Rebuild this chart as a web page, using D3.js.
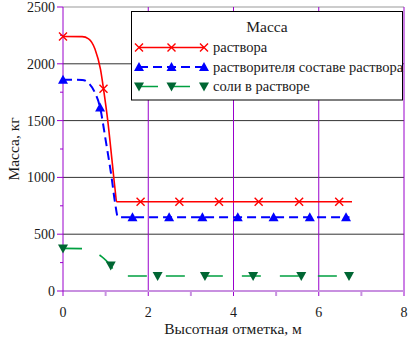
<!DOCTYPE html>
<html><head><meta charset="utf-8"><script src="https://cdn.jsdelivr.net/npm/d3@7"></script>
<style>
  html, body { margin: 0; overflow: hidden; background: #fff; }
  #wrap { width: 408px; height: 340px; overflow: hidden; }
  #wrap svg { transform: scale(0.5); transform-origin: 0 0; display: block; }
</style>
</head>
<body>
<div id="wrap"></div>
<script>
// series data (x = height mark, m; y = mass, kg)
var solutionLine = [[0, 2240], [0.45, 2239], [0.6, 2220], [0.75, 2130], [0.88, 1950], [0.95, 1780],
    [1.05, 1500], [1.15, 1150], [1.22, 900], [1.26, 785], [6.78, 785]];
var solutionMarks = [[0, 2240], [0.95, 1780], [1.82, 785], [2.73, 785], [3.66, 785], [4.59, 785], [5.54, 785], [6.48, 785]];

var solventLine = [[0, 1860], [0.45, 1858], [0.6, 1830], [0.75, 1745], [0.87, 1615], [1.0, 1330],
    [1.14, 1000], [1.22, 780], [1.29, 650], [6.72, 650]];
var solventMarks = [[0, 1860], [0.87, 1615], [1.63, 650], [2.49, 650], [3.27, 650], [4.10, 650], [4.94, 650], [5.79, 650], [6.64, 650]];

var saltLine = [[0, 375], [0.5, 373], [0.7, 350], [0.9, 305], [1.02, 265], [1.12, 225], [1.22, 160], [1.3, 132], [6.7, 132]];
var saltMarks = [[0, 375], [1.12, 225], [2.22, 132], [3.33, 132], [4.46, 132], [5.59, 132], [6.71, 132]];

var seriesNames = ["раствора", "растворителя составе раствора", "соли в растворе"];
var legendTitle = "Масса";
var xTicks = [0, 2, 4, 6, 8];
var xMinor = [1, 3, 5, 7];
var yTicks = [0, 500, 1000, 1500, 2000, 2500];
var yMinor = [250, 750, 1250, 1750, 2250];

var W = 408, H = 340;
var margin = {top: 7, right: 4, bottom: 49, left: 63};
var fontName = 'Liberation Serif';

// drawn at 2x through the viewBox, shrunk back with a css transform
var svg = d3.select('#wrap').append('svg')
    .attr('width', W * 2)
    .attr('height', H * 2)
    .attr('viewBox', '0 0 ' + W + ' ' + H);

var x = d3.scaleLinear().domain([0, 8]).range([margin.left, W - margin.right]);
var y = d3.scaleLinear().domain([0, 2500]).range([H - margin.bottom, margin.top]);

var purple = '#9900cc';
var lightPurple = '#c890e0';

function label(parent, tx, ty, size, anchor, str, rot) {
    parent.append('text')
        .attr('transform', 'translate(' + tx + ',' + ty + ')' + (rot ? ' rotate(' + rot + ')' : ''))
        .attr('text-anchor', anchor)
        .attr('font-size', size)
        .style('font-family', "'" + fontName + "'")
        .attr('fill', '#1a1a1a')
        .text(str);
}

// horizontal grid
svg.selectAll('.hgrid')
    .data(yTicks.slice(1))
    .enter().append('line')
    .attr('x1', x(0)).attr('x2', x(8))
    .attr('y1', (d) => y(d)).attr('y2', (d) => y(d))
    .attr('stroke', (d) => d == 2500 ? '#999' : '#333')
    .attr('stroke-width', 1);

// vertical grid
svg.selectAll('.vgrid')
    .data(xTicks.slice(1))
    .enter().append('line')
    .attr('x1', (d) => x(d)).attr('x2', (d) => x(d))
    .attr('y1', y(2500)).attr('y2', y(0) + 5)
    .attr('stroke', purple)
    .attr('stroke-width', 1);

// bottom axis
svg.append('line')
    .attr('x1', x(0)).attr('x2', x(8))
    .attr('y1', y(0)).attr('y2', y(0))
    .attr('stroke', lightPurple).attr('stroke-width', 2);

svg.selectAll('.xminor')
    .data(xMinor)
    .enter().append('line')
    .attr('x1', (d) => x(d)).attr('x2', (d) => x(d))
    .attr('y1', y(0)).attr('y2', y(0) + 5)
    .attr('stroke', lightPurple).attr('stroke-width', 2);

// left axis
svg.append('line')
    .attr('x1', x(0)).attr('x2', x(0))
    .attr('y1', y(2500)).attr('y2', y(0) + 5)
    .attr('stroke', purple);

svg.selectAll('.ymajor')
    .data(yTicks)
    .enter().append('line')
    .attr('x1', x(0) - 6).attr('x2', x(0))
    .attr('y1', (d) => y(d)).attr('y2', (d) => y(d))
    .attr('stroke', purple);

svg.selectAll('.yminor')
    .data(yMinor)
    .enter().append('line')
    .attr('x1', x(0) - 3).attr('x2', x(0))
    .attr('y1', (d) => y(d)).attr('y2', (d) => y(d))
    .attr('stroke', purple);

// tick labels
yTicks.forEach((d) => label(svg, x(0) - 8, y(d) + 5, 14, 'end', d));
xTicks.forEach((d) => label(svg, x(d), y(0) + 26, 14, 'middle', d));

label(svg, 233, 334, 15.5, 'middle', 'Высотная отметка, м');
label(svg, 19, y(1250), 15.5, 'middle', 'Масса, кг', -90);

// lines
var line = d3.line()
    .x((d) => x(d[0]))
    .y((d) => y(d[1]))
    .curve(d3.curveMonotoneX);

svg.append('path')
    .attr('d', line(solutionLine))
    .attr('fill', 'none').attr('stroke', '#ff0000').attr('stroke-width', 1.6);

svg.append('path')
    .attr('d', line(solventLine))
    .attr('fill', 'none').attr('stroke', '#0000ff').attr('stroke-width', 2)
    .attr('stroke-dasharray', '9,5');

svg.append('path')
    .attr('d', line(saltLine))
    .attr('fill', 'none').attr('stroke', '#00a040').attr('stroke-width', 1.6)
    .attr('stroke-dasharray', '19,19');

// markers
function cross(sel, px, py) {
    sel.append('path')
        .attr('d', 'M' + (px - 4) + ',' + (py - 4) + 'L' + (px + 4) + ',' + (py + 4) +
            'M' + (px - 4) + ',' + (py + 4) + 'L' + (px + 4) + ',' + (py - 4))
        .attr('stroke', '#ff0000').attr('stroke-width', 1.4).attr('fill', 'none');
}
function triUp(sel, px, py) {
    sel.append('path')
        .attr('d', 'M' + px + ',' + (py - 5) + 'L' + (px + 5) + ',' + (py + 4) + 'L' + (px - 5) + ',' + (py + 4) + 'Z')
        .attr('fill', '#0000ff');
}
function triDown(sel, px, py) {
    sel.append('path')
        .attr('d', 'M' + px + ',' + (py + 5) + 'L' + (px + 5) + ',' + (py - 4) + 'L' + (px - 5) + ',' + (py - 4) + 'Z')
        .attr('fill', '#006633');
}

var marks = svg.append('g');
solutionMarks.forEach((d) => cross(marks, x(d[0]), y(d[1])));
solventMarks.forEach((d) => triUp(marks, x(d[0]), y(d[1])));
saltMarks.forEach((d) => triDown(marks, x(d[0]), y(d[1])));

// legend
var lg = svg.append('g');
lg.append('rect')
    .attr('x', 131.5).attr('y', 11.5)
    .attr('width', 271).attr('height', 88.5)
    .attr('fill', '#fff').attr('stroke', '#000');

label(lg, 267, 32, 15.5, 'middle', legendTitle);

var rowY = [47.5, 67, 86.5];
var sampleX = [139, 171.5, 204];
var styles = [
    {stroke: '#ff0000', dash: null, w: 1.6, mark: cross},
    {stroke: '#0000ff', dash: '9,5', w: 2, mark: triUp},
    {stroke: '#00a040', dash: '19,13', w: 1.6, mark: triDown}
];

seriesNames.forEach((name, i) => {
    var s = styles[i];
    lg.append('line')
        .attr('x1', sampleX[0]).attr('x2', sampleX[2])
        .attr('y1', rowY[i]).attr('y2', rowY[i])
        .attr('stroke', s.stroke).attr('stroke-width', s.w)
        .attr('stroke-dasharray', s.dash);
    sampleX.forEach((sx) => s.mark(lg, sx, rowY[i]));
    label(lg, 213, rowY[i] + 4.5, 14.5, 'start', name);
});
</script>
</body>
</html>
